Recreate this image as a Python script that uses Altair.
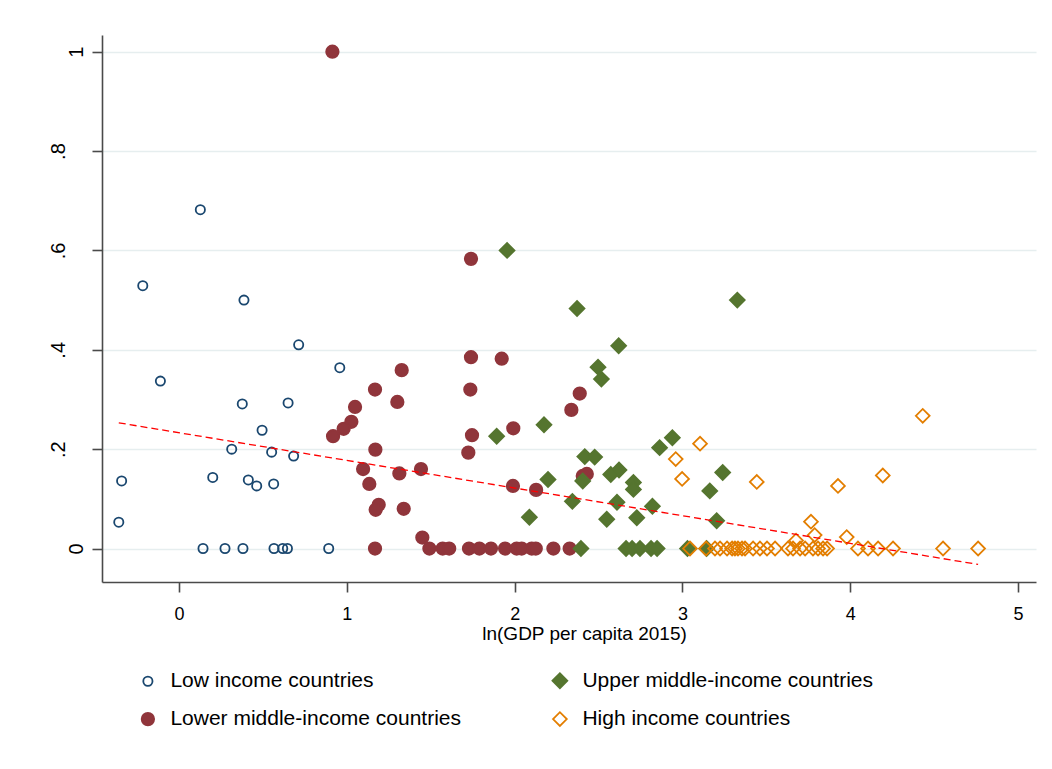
import altair as alt
import pandas as pd

# ---- data ----
groups = ["Low income countries", "Lower middle-income countries",
          "Upper middle-income countries", "High income countries"]

lo_x = [0.127, -0.216, 0.387, 0.713, 0.958, -0.111, 0.377, 0.650, 0.495, 0.314,
        0.552, 0.683, -0.342, 0.201, 0.413, 0.463, 0.564, -0.359,
        0.143, 0.274, 0.381, 0.566, 0.618, 0.646, 0.892]
lo_y = [0.682, 0.529, 0.500, 0.410, 0.364, 0.337, 0.291, 0.293, 0.238, 0.200,
        0.194, 0.186, 0.136, 0.143, 0.138, 0.126, 0.130, 0.053,
        0, 0, 0, 0, 0, 0, 0]

lm_x = [0.914, 1.327, 1.168, 1.301, 1.049, 1.027, 0.981, 0.918, 1.170, 1.097,
        1.442, 1.313, 1.134, 1.190, 1.172, 1.339, 1.450, 1.740, 1.740, 1.923,
        1.736, 2.388, 2.338, 1.992, 1.746, 1.724, 1.990, 2.128, 2.430, 2.406,
        1.168, 1.492, 1.571, 1.610, 1.728, 1.790, 1.859, 1.943, 2.012, 2.042,
        2.102, 2.126, 2.231, 2.328]
lm_y = [1.000, 0.359, 0.320, 0.295, 0.285, 0.255, 0.241, 0.226, 0.199, 0.160,
        0.160, 0.151, 0.130, 0.088, 0.078, 0.080, 0.022, 0.583, 0.385, 0.382,
        0.320, 0.312, 0.279, 0.242, 0.228, 0.193, 0.126, 0.118, 0.150, 0.146,
        0, 0, 0, 0, 0, 0, 0, 0, 0, 0, 0, 0, 0, 0]

um_x = [1.955, 2.372, 3.327, 2.620, 2.497, 2.517, 2.175, 1.893, 2.940, 2.864,
        2.418, 2.477, 3.240, 2.622, 2.573, 2.199, 2.406, 2.708, 2.708, 3.163,
        2.344, 2.610, 2.821, 2.088, 2.549, 2.728, 3.204,
        2.395, 2.664, 2.700, 2.747, 2.813, 2.849, 3.030, 3.144]
um_y = [0.600, 0.483, 0.500, 0.408, 0.365, 0.341, 0.249, 0.226, 0.223, 0.203,
        0.185, 0.184, 0.153, 0.158, 0.149, 0.139, 0.136, 0.133, 0.119, 0.116,
        0.095, 0.093, 0.085, 0.063, 0.059, 0.062, 0.056,
        0, 0, 0, 0, 0, 0, 0, 0]

hi_x = [3.105, 2.960, 2.998, 3.443, 4.432, 4.194, 3.927, 3.766, 3.788, 3.979, 3.677,
        3.045, 3.141, 3.194, 3.224, 3.266, 3.296, 3.313, 3.331, 3.355, 3.373,
        3.421, 3.462, 3.504, 3.552, 3.629, 3.659, 3.701, 3.731, 3.778, 3.808,
        3.838, 3.862, 4.046, 4.106, 4.166, 4.255, 4.553, 4.762]
hi_y = [0.211, 0.180, 0.140, 0.134, 0.267, 0.147, 0.126, 0.054, 0.027, 0.023, 0.016,
        0, 0, 0, 0, 0, 0, 0, 0, 0, 0,
        0, 0, 0, 0, 0, 0, 0, 0, 0, 0,
        0, 0, 0, 0, 0, 0, 0, 0]

fit_x = [-0.359, 4.762]
fit_y = [0.253, -0.032]

x_ticks = [0, 1, 2, 3, 4, 5]
y_ticks = [0, 0.2, 0.4, 0.6, 0.8, 1]

# ---- tables ----
rows = []
for g, xs, ys in zip(groups, [lo_x, lm_x, um_x, hi_x], [lo_y, lm_y, um_y, hi_y]):
    for xv, yv in zip(xs, ys):
        rows.append({"x": xv, "y": yv, "group": g})
df = pd.DataFrame(rows)
fit_df = pd.DataFrame({"x": fit_x, "y": fit_y})

# styles in group order: Low, Lower, Upper, High
stroke_range = ["#1a476f", "#90353b", "#55752f", "#e37e00"]
fill_range = ["transparent", "#90353b", "#55752f", "transparent"]
shape_range = ["circle", "circle", "diamond", "diamond"]
size_range = [85, 155, 220, 190]

FONT = "Liberation Sans"

xscale = alt.Scale(domain=[-0.459, 5.107], nice=False, zero=False)
yscale = alt.Scale(domain=[-0.0674, 1.0336], nice=False, zero=False)

legend = alt.Legend(
    title=None, orient="none", legendX=35.4, legendY=635, columns=2,
    columnPadding=87, rowPadding=15.6, labelOffset=12, padding=0,
    labelFont=FONT, labelFontSize=21, labelColor="black",
    symbolStrokeWidth=1.8, labelLimit=0,
)

x_axis = alt.Axis(
    values=x_ticks, title="ln(GDP per capita 2015)", grid=False, format="d",
    labelFontSize=18, labelPadding=27, labelBaseline="alphabetic",
    titleFontSize=19, titleFontWeight="normal", titleBaseline="alphabetic",
    titleX=482, titleY=57.3, titleAlign="center", labelFlush=False,
)
y_axis = alt.Axis(
    values=y_ticks, title=None, grid=True,
    labelAngle=270, labelAlign="center", labelBaseline="alphabetic",
    labelFontSize=20,
    labelPadding={"condition": {"test": "datum.value == 0 || datum.value == 1", "value": 10},
                  "value": 28},
    labelExpr="datum.value == 0 ? '0' : (datum.value >= 1 ? '1' : '.' + format(datum.value * 10, '.0f'))",
    labelFlush=False,
)

points = alt.Chart(df).mark_point(filled=True, opacity=1, strokeWidth=1.8).encode(
    x=alt.X("x:Q", scale=xscale, axis=x_axis),
    y=alt.Y("y:Q", scale=yscale, axis=y_axis),
    stroke=alt.Stroke("group:N", scale=alt.Scale(domain=groups, range=stroke_range), legend=legend),
    fill=alt.Fill("group:N", scale=alt.Scale(domain=groups, range=fill_range), legend=legend),
    shape=alt.Shape("group:N", scale=alt.Scale(domain=groups, range=shape_range), legend=legend),
    size=alt.Size("group:N", scale=alt.Scale(type="ordinal", domain=groups, range=size_range), legend=legend),
    order=alt.Order("idx:Q"),
).transform_window(idx="row_number()")

fit = alt.Chart(fit_df).mark_line(color="#ff0000", strokeDash=[7, 4], strokeWidth=1.3).encode(
    x=alt.X("x:Q", scale=xscale),
    y=alt.Y("y:Q", scale=yscale),
)

chart = alt.layer(points, fit).properties(
    width=934, height=547,
    autosize=alt.AutoSizeParams(type="none"),
    padding={"left": 94, "top": 27, "right": 8, "bottom": 179},
    background="white",
).configure_view(stroke=None).configure_axis(
    domainColor="#4a4a4a", domainWidth=1.6, tickColor="#4a4a4a", tickWidth=1.6,
    tickSize=10, labelFont=FONT, labelColor="black", titleFont=FONT, titleColor="black",
    gridColor="#e6eeef", gridWidth=1.5,
)

chart.save("out.html", embed_options={"renderer": "svg", "actions": False})
